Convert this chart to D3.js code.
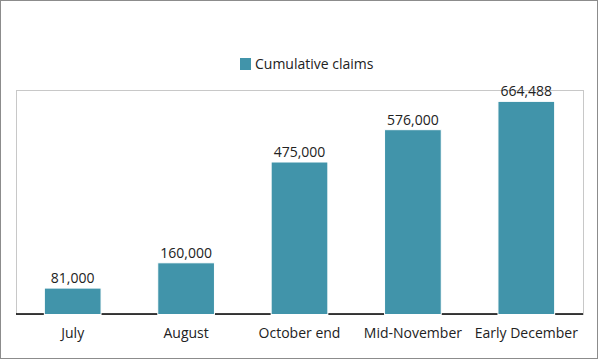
<!DOCTYPE html>
<html><head><meta charset="utf-8">
<script src="https://cdn.jsdelivr.net/npm/d3@7"></script>
<style>body{margin:0;background:#fff}svg{display:block}text{font-family:"Open Sans","Noto Sans",sans-serif;fill:#222}</style>
</head><body><svg id="c" width="600" height="360"></svg>
<script>
const categories = ["July","August","October end","Mid-November","Early December"];
const values = [81000,160000,475000,576000,664488];
const seriesName = "Cumulative claims";

const svg = d3.select("#c");
const W=600,H=360;
const m={left:16,right:17,top:90,bottom:46};
const iw=W-m.left-m.right, ih=H-m.top-m.bottom;
svg.append("rect").attr("x",0.5).attr("y",0.5).attr("width",597).attr("height",358).attr("fill","#fff").attr("stroke","#8c8c8c");
const g=svg.append("g").attr("transform",`translate(${m.left},${m.top})`);
const x=d3.scaleBand().domain(categories).range([0,iw]).paddingInner(0.5).paddingOuter(0.25);
const y=d3.scaleLinear().domain([0,700000]).range([ih,0]);
g.append("rect").attr("x",0.5).attr("y",0.5).attr("width",iw).attr("height",ih).attr("fill","none").attr("stroke","#c8c8c8");
g.append("line").attr("x1",0).attr("x2",iw).attr("y1",ih).attr("y2",ih).attr("stroke","#000").attr("stroke-width",1.5);
const color="#4194aa";
g.selectAll(".bar").data(values).join("rect").attr("class","bar")
 .attr("x",(d,i)=>x(categories[i])).attr("width",x.bandwidth())
 .attr("y",d=>y(d)).attr("height",d=>ih-y(d)+0.5)
 .attr("fill",color).attr("stroke","#fff").attr("stroke-width",1);
g.selectAll(".val").data(values).join("text").attr("class","val")
 .attr("x",(d,i)=>x(categories[i])+x.bandwidth()/2).attr("y",d=>y(d)-5)
 .attr("text-anchor","middle").attr("font-size",14).text(d=>d3.format(",")(d));
const ax=g.append("g").attr("transform",`translate(0,${ih})`).call(d3.axisBottom(x).tickSize(0).tickPadding(14));
ax.select(".domain").remove();
ax.selectAll("text").attr("font-size",14).style("font-family","'Open Sans','Noto Sans',sans-serif").attr("fill","#222");
const lg=svg.append("g");
lg.append("rect").attr("x",240).attr("y",58).attr("width",11).attr("height",12).attr("fill",color);
lg.append("text").attr("x",255).attr("y",69).attr("font-size",14).text(seriesName);
</script></body></html>
